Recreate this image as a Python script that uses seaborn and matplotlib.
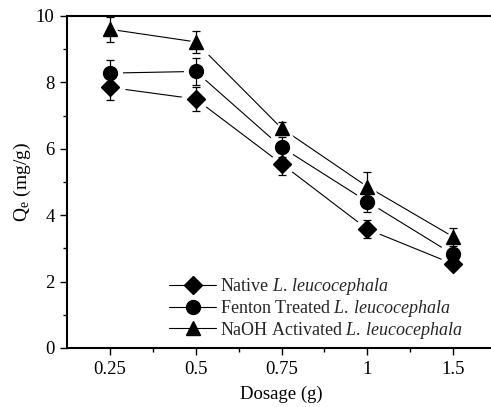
import numpy as np
import pandas as pd
import matplotlib
matplotlib.use("Agg")
import matplotlib.pyplot as plt
import seaborn as sns
from matplotlib.ticker import FixedLocator
from matplotlib.lines import Line2D

sns.set_theme(style="ticks")
plt.rcParams['font.family'] = ['Liberation Serif', 'DejaVu Serif']
plt.rcParams['mathtext.fontset'] = 'custom'
plt.rcParams['mathtext.rm'] = 'Liberation Serif'
plt.rcParams['mathtext.it'] = 'Liberation Serif:italic'

dosage = ["0.25", "0.5", "0.75", "1", "1.5"]
native = [7.85, 7.50, 5.55, 3.58, 2.53]
native_err = [0.37, 0.36, 0.33, 0.27, 0.15]
fenton = [8.28, 8.33, 6.05, 4.41, 2.82]
fenton_err = [0.40, 0.42, 0.30, 0.32, 0.20]
naoh = [9.60, 9.22, 6.62, 4.86, 3.35]
naoh_err = [0.37, 0.32, 0.20, 0.43, 0.27]
labels = [r"Native $\mathit{L.\,leucocephala}$",
          r"Fenton Treated $\mathit{L.\,leucocephala}$",
          r"NaOH Activated $\mathit{L.\,leucocephala}$"]
markers = ["D", "o", "^"]
msizes = [9, 10, 10.5]

pos = np.arange(len(dosage))
series = [(native, native_err), (fenton, fenton_err), (naoh, naoh_err)]

fig = plt.figure(figsize=(4.91, 4.07), dpi=100)
ax = fig.add_axes([67/491, (407-348)/407, (496-67)/491, (348-16)/407])

for (vals, errs), mk, ms in zip(series, markers, msizes):
    df = pd.DataFrame({"x": pos, "y": vals})
    sns.lineplot(data=df, x="x", y="y", ax=ax, color="black", lw=0.8,
                 zorder=1, legend=False)
    # white halo to create gaps between lines and markers
    ax.plot(pos, vals, ls="none", marker=mk, ms=ms + 7, mfc="white",
            mec="white", zorder=2)
    ax.errorbar(pos, vals, yerr=errs, fmt="none", ecolor="black",
                elinewidth=0.9, capsize=3, capthick=0.9, zorder=3)
    ax.plot(pos, vals, ls="none", marker=mk, ms=ms, color="black",
            mfc="black", mec="black", zorder=4)

leg_handles = [Line2D([], [], color="black", lw=0.8, marker=mk, ms=ms)
               for mk, ms in zip(markers, msizes)]
ax.legend(leg_handles, labels, loc="lower left",
          bbox_to_anchor=(0.222, 0.0), frameon=False, fontsize=13,
          handlelength=2.6, handletextpad=0.2, labelspacing=0.05,
          borderaxespad=0.0)

ax.set_xlim(-0.5, 4.5)
ax.set_ylim(0, 10)
ax.set_xticks(pos)
ax.set_xticklabels(dosage)
ax.xaxis.set_minor_locator(FixedLocator(pos[:-1] + 0.5))
ax.set_yticks([0, 2, 4, 6, 8, 10])
ax.yaxis.set_minor_locator(FixedLocator([1, 3, 5, 7, 9]))
ax.tick_params(axis="both", which="major", direction="out", length=5,
               width=1.0, labelsize=13.5, color="black", labelcolor="black",
               pad=4)
ax.tick_params(axis="both", which="minor", direction="out", length=3,
               width=1.0, color="black")
ax.set_xlabel("Dosage (g)", fontsize=13.5, color="black", labelpad=6)
ax.set_ylabel(r"Q$_\mathrm{e}$ (mg/g)", fontsize=14, color="black",
              labelpad=2)
for s in ax.spines.values():
    s.set_linewidth(1.5)
    s.set_color("black")

fig.savefig("out.png", dpi=100)
